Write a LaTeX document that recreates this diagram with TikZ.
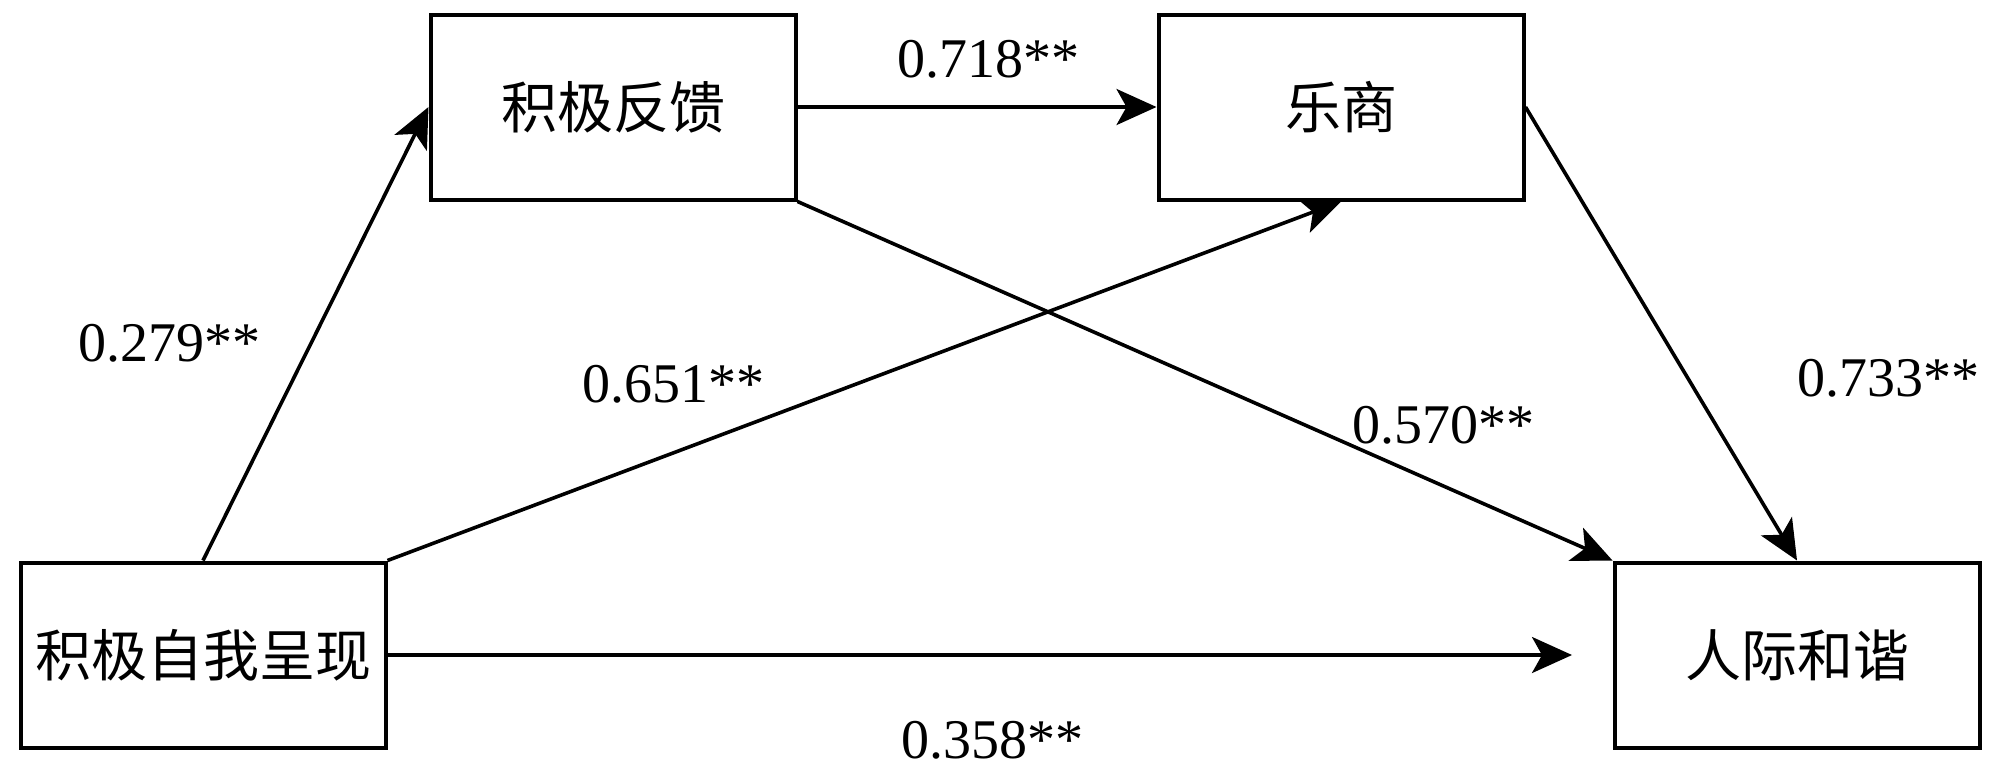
\documentclass[tikz,border=0pt]{standalone}
\usepackage{fontspec}
\setmainfont{Liberation Serif}
\newfontfamily\cjk{Noto Sans CJK SC}
\usetikzlibrary{arrows.meta}
\begin{document}
\begin{tikzpicture}[x=0.5pt,y=-0.5pt,
  box/.style={draw=black,line width=2pt,minimum width=182.5pt,minimum height=92.5pt,inner sep=0pt,font=\cjk\fontsize{28}{30}\selectfont},
  arr/.style={line width=1.8pt,-{Stealth[length=20pt,width=18pt,inset=5pt]}},
  lab/.style={font=\fontsize{28}{30}\selectfont,inner sep=0pt}]
\useasboundingbox (0,0) rectangle (2000,767);
\node[box] (fb) at (613,107) {积极反馈};
\node[box] (lq) at (1341,107) {乐商};
\node[box] (sp) at (203,655) {积极自我呈现};
\node[box] (hx) at (1797,655) {人际和谐};
\coordinate (hxin) at (1572,655);
\draw[arr] (sp.north) -- (fb.west);
\draw[arr] (fb.east) -- (lq.west);
\draw[arr] (fb.south east) -- (hx.north west);
\draw[arr] (sp.north east) -- (lq.south);
\draw[arr] (lq.east) -- (hx.north);
\draw[arr] (sp.east) -- (hxin);
\node[lab] (l1) at (988,59) {0.718**};
\node[lab] (l2) at (169,343) {0.279**};
\node[lab] (l3) at (673,384) {0.651**};
\node[lab] (l4) at (1443,425) {0.570**};
\node[lab] (l5) at (1888,378) {0.733**};
\node[lab] (l6) at (992,740) {0.358**};
\end{tikzpicture}
\end{document}
